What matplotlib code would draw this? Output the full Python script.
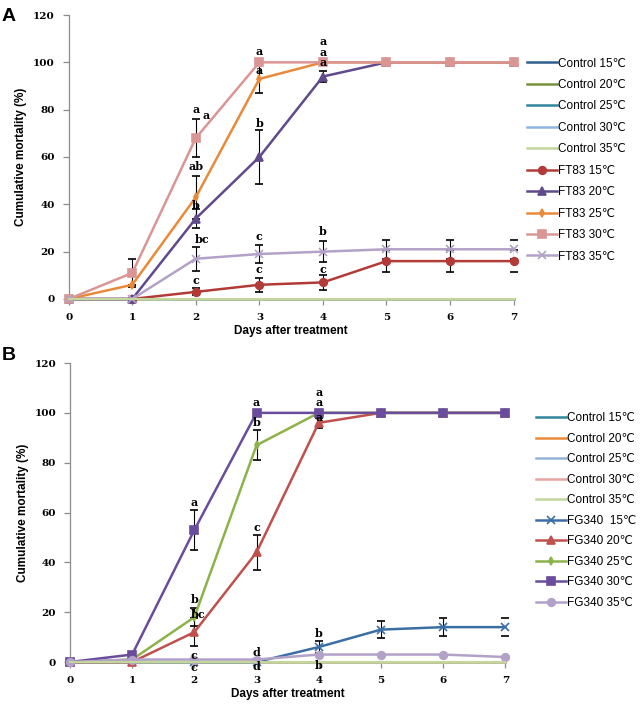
import matplotlib
matplotlib.use("Agg")
import matplotlib.pyplot as plt
from matplotlib.container import ErrorbarContainer

days = [0, 1, 2, 3, 4, 5, 6, 7]

# ---- panel A: FT83 ----
labels_a = ["Control 15℃", "Control 20℃", "Control 25℃", "Control 30℃", "Control 35℃",
            "FT83 15℃", "FT83 20℃", "FT83 25℃", "FT83 30℃", "FT83 35℃"]
colors_a = ["#2f5e8e", "#77933c", "#31859c", "#8eb4e3", "#c3d69b",
            "#b23b38", "#5f4a8b", "#e98a3a", "#d99694", "#b3a2c7"]
markers_a = [None, None, None, None, None, "o", "^", "d", "s", "x"]
control_a = [0, 0, 0, 0, 0, 0, 0, 0]
ft83_15 = [0, 0, 3, 6, 7, 16, 16, 16]
ft83_20 = [0, 0, 34, 60, 94, 100, 100, 100]
ft83_25 = [0, 6, 43, 93, 100, 100, 100, 100]
ft83_30 = [0, 11, 68, 100, 100, 100, 100, 100]
ft83_35 = [0, 0, 17, 19, 20, 21, 21, 21]
ft83_15_err = [0, 0, 1.5, 3, 3, 4.5, 4.5, 4.5]
ft83_20_err = [0, 0, 4, 11.5, 2.5, 0, 0, 0]
ft83_25_err = [0, 0, 9, 6, 0, 0, 0, 0]
ft83_30_err = [0, 6, 8, 0, 0, 0, 0, 0]
ft83_35_err = [0, 0, 5, 4, 4.5, 4, 4, 4]
letters_a = [("a", 2, 80), ("a", 2.16, 77.5), ("ab", 2, 56), ("b", 2, 39.5), ("bc", 2.1, 25),
             ("c", 2, 8), ("a", 3, 104.5), ("a", 3, 96.5), ("b", 3, 74), ("c", 3, 26.5),
             ("c", 3, 12.3), ("a", 4, 108.7), ("a", 4, 104), ("a", 4, 99.8), ("b", 4, 28.5),
             ("c", 4, 12.3)]

# ---- panel B: FG340 ----
labels_b = ["Control 15℃", "Control 20℃", "Control 25℃", "Control 30℃", "Control 35℃",
            "FG340  15℃", "FG340 20℃", "FG340 25℃", "FG340 30℃", "FG340 35℃"]
colors_b = ["#31859c", "#e98a3a", "#95b3d7", "#e6a5a3", "#c3d69b",
            "#3a6ea5", "#c0504d", "#8db24a", "#6a4c9c", "#b3a2c7"]
markers_b = [None, None, None, None, None, "x", "^", "d", "s", "o"]
control_b = [0, 0, 0, 0, 0, 0, 0, 0]
fg340_15 = [0, 0, 0, 0, 6, 13, 14, 14]
fg340_20 = [0, 0, 12, 44, 96, 100, 100, 100]
fg340_25 = [0, 1, 18, 87, 100, 100, 100, 100]
fg340_30 = [0, 3, 53, 100, 100, 100, 100, 100]
fg340_35 = [0, 1, 1, 1, 3, 3, 3, 2]
fg340_15_err = [0, 0, 0, 0, 2.5, 3.3, 3.5, 3.5]
fg340_20_err = [0, 0, 5.5, 7, 2, 0, 0, 0]
fg340_25_err = [0, 0, 3.5, 6, 0, 0, 0, 0]
fg340_30_err = [0, 0, 8, 0, 0, 0, 0, 0]
fg340_35_err = [0, 0, 0, 0, 0, 0, 0, 0]
letters_b = [("a", 2, 64), ("b", 2, 25), ("bc", 2.06, 19), ("c", 2, 2.8), ("c", 2, -2.4),
             ("a", 3, 104), ("b", 3, 96), ("c", 3, 54), ("d", 3, 4), ("d", 3, -2),
             ("a", 4, 108), ("a", 4, 104), ("a", 4, 98), ("b", 4, 11.6), ("b", 4, -1.6)]

SERIF = ["DejaVu Serif"]
SANS = ["Liberation Sans", "DejaVu Sans"]
LAB_FONT = dict(family=SANS, weight="bold", size=8.5)
AXCOL = "#8c8c8c"


def draw_panel(ax, series, errs, labels, colors, markers, letters):
    n_ctrl = 5
    for i in range(n_ctrl):
        ax.plot(days, series[i], color=colors[i], lw=1.8, label=labels[i], zorder=2)
    for j in range(n_ctrl, len(series)):
        ax.errorbar(days, series[j], yerr=errs[j - n_ctrl], color=colors[j], lw=1.8,
                    marker=markers[j], ms=5.5 if markers[j] != "d" else 4,
                    mew=1.2, ecolor="black", elinewidth=0.8, capsize=3, capthick=0.8,
                    label=labels[j], zorder=3)
    # control 35 is drawn last in the original, so it sits on top at zero
    ax.plot(days, series[4], color=colors[4], lw=1.5, zorder=4)
    for txt, x, y in letters:
        ax.text(x, y, txt, ha="center", va="center", zorder=5,
                family=SERIF, weight="bold", size=8)
    ax.set_xlim(0, 7); ax.set_ylim(0, 120)
    ax.set_xticks(days); ax.set_yticks(range(0, 121, 20))
    for s in ("top", "right"):
        ax.spines[s].set_visible(False)
    for s in ("left", "bottom"):
        ax.spines[s].set_color(AXCOL); ax.spines[s].set_linewidth(0.9)
    ax.tick_params(colors=AXCOL, labelcolor="black", length=4, width=0.9, pad=6)
    for lab in ax.get_xticklabels() + ax.get_yticklabels():
        lab.set_fontfamily(SERIF); lab.set_fontweight("bold"); lab.set_fontsize(7.5)
    ax.set_ylabel("Cumulative mortality (%)", labelpad=4, **LAB_FONT)
    ax.set_xlabel("Days after treatment", labelpad=2, **LAB_FONT)
    for line in ax.lines:
        line.set_clip_on(False)


fig = plt.figure(figsize=(6.42, 7.11), dpi=100)
ax_a = fig.add_axes([0.107, 0.5795, 0.693, 0.3994])
ax_b = fig.add_axes([0.109, 0.0689, 0.678, 0.4205])

draw_panel(ax_a, [control_a] * 5 + [ft83_15, ft83_20, ft83_25, ft83_30, ft83_35],
           [ft83_15_err, ft83_20_err, ft83_25_err, ft83_30_err, ft83_35_err],
           labels_a, colors_a, markers_a, letters_a)
draw_panel(ax_b, [control_b] * 5 + [fg340_15, fg340_20, fg340_25, fg340_30, fg340_35],
           [fg340_15_err, fg340_20_err, fg340_25_err, fg340_30_err, fg340_35_err],
           labels_b, colors_b, markers_b, letters_b)

leg_font = dict(family=SANS, size=8.5)
for ax, anchor, spacing in ((ax_a, (0.821, 0.919), 0.8), (ax_b, (0.835, 0.420), 0.72)):
    h, l = ax.get_legend_handles_labels()
    h = [x.lines[0] if isinstance(x, ErrorbarContainer) else x for x in h]
    fig.legend(h, l, loc="upper left", bbox_to_anchor=anchor, frameon=False,
               handlelength=2.5, handletextpad=0.15, labelspacing=spacing,
               prop=leg_font, borderaxespad=0, borderpad=0)

fig.text(0.003, 0.977, "A", fontsize=14, fontweight="bold", va="center", family=SANS)
fig.text(0.003, 0.500, "B", fontsize=14, fontweight="bold", va="center", family=SANS)

fig.savefig("out.png", dpi=100)
